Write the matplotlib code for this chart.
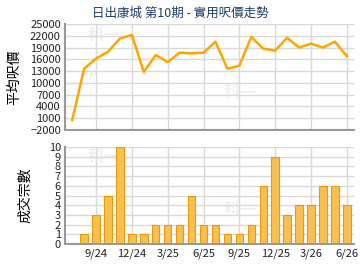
import numpy as np
import matplotlib
matplotlib.use("Agg")
import matplotlib.pyplot as plt

plt.rcParams['font.family'] = ['Noto Sans CJK TC', 'DejaVu Sans']

# 月份: 7/24 ... 6/26
months = ['7/24', '8/24', '9/24', '10/24', '11/24', '12/24', '1/25', '2/25', '3/25',
          '4/25', '5/25', '6/25', '7/25', '8/25', '9/25', '10/25', '11/25', '12/25',
          '1/26', '2/26', '3/26', '4/26', '5/26', '6/26']
price = [500, 13600, 16200, 17900, 21300, 22200, 12800, 17100, 15300, 17700,
         17500, 17700, 20500, 13600, 14400, 21700, 18700, 18200, 21500, 19000,
         20000, 19000, 20500, 16800]
deals = [0, 1, 3, 5, 10, 1, 1, 2, 2, 2, 5, 2, 2, 1, 1, 2, 6, 9, 3, 4, 4, 6, 6, 4]

x = np.arange(len(months))
tick_idx = [i for i, m in enumerate(months) if m.split('/')[0] in ('3', '6', '9', '12')]

fig = plt.figure(figsize=(3.6, 2.7), dpi=100)
ax1 = fig.add_axes([65/360, 1-130/270, 289/360, 106/270])
ax2 = fig.add_axes([65/360, 1-244/270, 289/360, 97/270])

grid_c = '#d9d9d9'
for ax in (ax1, ax2):
    ax.set_xlim(-0.6, 23.6)
    ax.set_xticks([x[i] for i in tick_idx])
    ax.grid(True, color=grid_c, linewidth=1)
    ax.set_axisbelow(True)
    for s in ('top', 'right'):
        ax.spines[s].set_visible(False)
    for s in ('left', 'bottom'):
        ax.spines[s].set_color('#999999')
        ax.spines[s].set_linewidth(1.5)
    ax.tick_params(length=0, labelsize=8, colors='#222222', pad=3)

ax1.plot(x, price, color='#FFA500', linewidth=1.8)
ax1.set_ylim(-2000, 25000)
ax1.set_yticks(np.arange(-2000, 25001, 3000))
ax1.set_xticklabels([])
ax1.set_ylabel('平均呎價', fontsize=10, labelpad=6)

ax2.bar(x, deals, width=0.62, color='#F8C04E', edgecolor='#E89A0C', linewidth=0.8)
ax2.set_ylim(0, 10)
ax2.set_yticks(range(0, 11))
ax2.set_xticklabels([months[i] for i in tick_idx])
ax2.set_ylabel('成交宗數', fontsize=10, labelpad=12)

# 水印
for ax in (ax1, ax2):
    for px, py in [(0.08, 0.85), (0.55, 0.3)]:
        ax.text(px, py, '科一', transform=ax.transAxes, fontsize=12, color='#f0f0f0',
                fontweight='bold', zorder=0.5)

fig.text(0.5, 1-13/270, '日出康城 第10期 - 實用呎價走勢', ha='center', va='center',
         fontsize=9, color='#1F3D6B')

fig.savefig('out.png', dpi=100)
